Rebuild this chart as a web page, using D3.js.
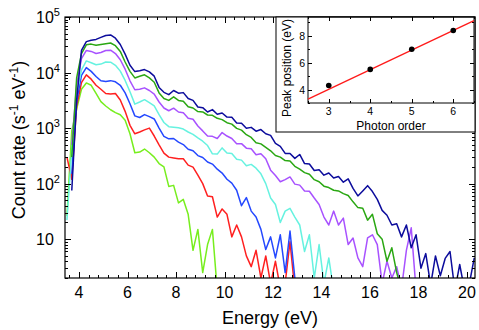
<!DOCTYPE html>
<html>
<head>
<meta charset="utf-8">
<script src="https://d3js.org/d3.v7.min.js"></script>
<style>
  body { margin: 0; background: #fff; }
  text { font-family: "Liberation Sans", Arial, sans-serif; fill: #000; }
  .axis path, .axis line { stroke: #000; stroke-width: 1; shape-rendering: crispEdges; }
</style>
</head>
<body>
<svg width="479" height="330"></svg>
<script>
// energy grid (eV) shared by all spectra
var energy = [3.5,3.7,3.9,4.1,4.3,4.5,4.7,4.9,5.1,5.3,
  5.5,5.7,5.9,6.1,6.3,6.5,6.7,6.9,7.1,7.3,
  7.5,7.7,7.9,8.1,8.3,8.5,8.7,8.9,9.1,9.3,
  9.5,9.7,9.9,10.1,10.3,10.5,10.7,10.9,11.1,11.3,
  11.5,11.7,11.9,12.1,12.3,12.5,12.7,12.9,13.1,13.3,
  13.5,13.7,13.9,14.1,14.3,14.5,14.7,14.9,15.1,15.3,
  15.5,15.7,15.9,16.1,16.3,16.5,16.7,16.9,17.1,17.3,
  17.5,17.7,17.9,18.1,18.3,18.5,18.7,18.9,19.1,19.3,
  19.5,19.7,19.9,20.1,20.3];

// count rates (s^-1 eV^-1)
var navy = [null,75,3200,25000,36000,38000,39500,43000,46500,47500,
  41500,32000,21500,13500,10400,10800,11300,10300,8600,5400,
  4400,4000,4750,4250,4350,3400,3150,2400,2330,1950,
  2150,1780,1870,1580,1560,1240,1220,990,1030,880,
  940,790,740,530,470,350,350,285,335,230,
  225,172,178,142,155,126,134,106,122,82,
  60,74,92,72,52,33,27,18,19,11,
  18,7,12,3,5.5,1.5,5,2.2,4.5,6,
  1.2,3.5,1.2,1.6,4.6];
var green = [null,300,8000,22000,31500,32500,31000,32000,33000,34000,
  30500,24000,15500,10500,8000,8600,9100,8000,6700,4300,
  3400,3150,3650,3150,3050,2420,2300,1980,1950,1720,
  1700,1500,1420,1250,1180,990,920,760,680,545,
  520,450,390,320,300,260,255,205,182,158,
  148,118,108,90,85,76,74,66,61,47,
  37,36,22,28,12.5,10,4,7,2.5,1.2];
var purple = [null,500,6000,17800,25000,24000,22000,23000,25000,25300,
  22000,17000,11500,7100,4900,5000,5300,4750,4100,2950,
  2300,2050,2280,1950,1890,1510,1440,1090,890,720,
  710,650,830,720,650,520,525,435,425,330,
  345,280,175,140,108,118,132,98,94,74,
  73,55,42,25,18,32,18,24,8,10.5,
  4.6,3.2,10.5,12,8,1.6,4,2,3.2,1.3,
  6.3,16,1.2];
var cyan = [22,400,4000,11200,16200,15000,13800,14200,15500,15400,
  13500,10600,7200,4500,2700,2950,3250,2880,2500,1740,
  1260,1060,1040,1010,960,850,770,665,580,485,
  345,340,440,355,350,275,265,210,222,190,
  150,100,55,42,20,32,36,25,18,6,
  12,2,8,1.6,4.6,1.2];
var blue = [null,150,3000,8900,12300,10500,8500,7100,6900,7150,
  6800,5900,4300,2750,1660,1550,1750,1610,1460,1000,
  710,640,650,560,505,415,390,320,295,245,
  225,182,155,120,102,76,40,56,32,25,
  15,6.5,11,4.6,12,2.5,14,2];
var red = [300,120,2500,6600,9100,7600,5900,5000,4200,4100,
  4200,3200,2000,1120,790,850,930,1000,720,500,
  355,300,290,280,280,215,198,142,100,60,
  58,25,35,28,11,18,11,5,3.2,6.3,
  2,5,1.6,4,1.3,1.6,9,1.2];
var lime = [26,900,2200,5000,6500,5900,4200,3000,2500,2140,
  1900,1740,1380,790,360,370,420,360,300,230,
  200,89,93,45,52,28,6.3,15,2.5,8,
  15,1.2];

// drawing order: lowest spectrum first
var spectra = [
  {values: lime,   color: "#77ee1e"},
  {values: red,    color: "#ff2020"},
  {values: blue,   color: "#2448ff"},
  {values: cyan,   color: "#66f2e0"},
  {values: purple, color: "#a852ff"},
  {values: green,  color: "#2aa712"},
  {values: navy,   color: "#0c0c9c"}
];

var xTicks = [4,6,8,10,12,14,16,18,20];
var yTicks = [10,100,1000,10000,100000];

// inset: peak position vs photon order
var order = [3,4,5,6];
var peakPos = [4.3,5.5,7.0,8.4];
var fitSlope = 1.46, fitIntercept = -0.36;
var insetXTicks = [3,4,5,6];
var insetYTicks = [4,6,8];

var svg = d3.select("svg");
var plot = {left:65, right:475, top:17, bottom:278};

var x = d3.scaleLinear().domain([3.42,20.33]).range([plot.left,plot.right]);
var y = d3.scaleLog().domain([2,1e5]).range([plot.bottom,plot.top]);

svg.append("clipPath").attr("id","clip")
  .append("rect")
  .attr("x",plot.left).attr("y",plot.top)
  .attr("width",plot.right-plot.left).attr("height",plot.bottom-plot.top);

var line = d3.line()
  .defined(function(d){ return d[1] != null; })
  .x(function(d){ return x(d[0]); })
  .y(function(d){ return y(d[1]); });

var curves = svg.append("g").attr("clip-path","url(#clip)");
spectra.forEach(function(s){
  var pts = energy.map(function(e,i){ return [e, s.values[i] === undefined ? null : s.values[i]]; });
  curves.append("path")
    .datum(pts)
    .attr("d",line)
    .attr("fill","none")
    .attr("stroke",s.color)
    .attr("stroke-width",1.5)
    .attr("stroke-linejoin","round");
});

// minor ticks
var xMinor = d3.range(3.6,20.4,0.4).map(function(v){ return +v.toFixed(1); })
  .filter(function(v){ return xTicks.indexOf(v) < 0; });
var yMinor = [];
[1,10,100,1000,10000].forEach(function(dec){
  for (var k=2;k<=9;k++){ var v=k*dec; if (v>=2 && v<1e5) yMinor.push(v); }
});

function axisGroup(axis, tx, ty){
  var g = svg.append("g").attr("class","axis")
    .attr("transform","translate("+tx+","+ty+")").call(axis);
  g.select(".domain").remove();
  return g;
}

axisGroup(d3.axisBottom(x).tickValues(xTicks).tickSize(-6).tickFormat(""),0,plot.bottom);
axisGroup(d3.axisBottom(x).tickValues(xMinor).tickSize(-3).tickFormat(""),0,plot.bottom);
axisGroup(d3.axisTop(x).tickValues(xTicks).tickSize(-6).tickFormat(""),0,plot.top);
axisGroup(d3.axisTop(x).tickValues(xMinor).tickSize(-3).tickFormat(""),0,plot.top);
axisGroup(d3.axisLeft(y).tickValues(yTicks).tickSize(-6).tickFormat(""),plot.left,0);
axisGroup(d3.axisLeft(y).tickValues(yMinor).tickSize(-3).tickFormat(""),plot.left,0);
axisGroup(d3.axisRight(y).tickValues(yTicks).tickSize(-6).tickFormat(""),plot.right,0);
axisGroup(d3.axisRight(y).tickValues(yMinor).tickSize(-3).tickFormat(""),plot.right,0);

svg.append("rect")
  .attr("x",plot.left).attr("y",plot.top)
  .attr("width",plot.right-plot.left).attr("height",plot.bottom-plot.top)
  .attr("fill","none").attr("stroke","#000").attr("stroke-width",1.2);

// x tick labels
svg.append("g").selectAll("text").data(xTicks).enter().append("text")
  .attr("x",function(d){ return x(d); })
  .attr("y",plot.bottom+20)
  .attr("text-anchor","middle")
  .style("font-size","16px")
  .text(function(d){ return d; });

// y tick labels (powers of ten)
var yl = svg.append("g").selectAll("text").data(yTicks).enter().append("text")
  .attr("x",36)
  .attr("y",function(d){ return y(d)+6; })
  .style("font-size","16px");
yl.append("tspan").text("10");
yl.filter(function(d){ return d > 10; }).append("tspan")
  .attr("dy",-7).style("font-size","11px")
  .text(function(d){ return Math.round(Math.log10(d)); });

// axis titles
svg.append("text")
  .attr("x",(plot.left+plot.right)/2).attr("y",324)
  .attr("text-anchor","middle").style("font-size","18px")
  .text("Energy (eV)");

var yt = svg.append("text")
  .attr("transform","translate(25,140) rotate(-90)")
  .attr("text-anchor","middle").style("font-size","18px");
yt.append("tspan").text("Count rate (s");
yt.append("tspan").attr("dy",-7).style("font-size","12px").text("-1");
yt.append("tspan").attr("dy",7).text(" eV");
yt.append("tspan").attr("dy",-7).style("font-size","12px").text("-1");
yt.append("tspan").attr("dy",7).text(")");

// ---- inset ----
var ins = {left:308, right:474, top:17, bottom:103};
svg.append("rect")
  .attr("x",276).attr("y",17).attr("width",199).attr("height",115)
  .attr("fill","#fff").attr("stroke","#000").attr("stroke-width",1);

var ix = d3.scaleLinear().domain([2.5,6.5]).range([ins.left,ins.right]);
var iy = d3.scaleLinear().domain([3,9.4]).range([ins.bottom,ins.top]);

var ixMinor = [2.5,3.5,4.5,5.5,6.5];
var iyMinor = [3,5,7,9];
axisGroup(d3.axisBottom(ix).tickValues(insetXTicks).tickSize(-4).tickFormat(""),0,ins.bottom);
axisGroup(d3.axisBottom(ix).tickValues(ixMinor).tickSize(-2).tickFormat(""),0,ins.bottom);
axisGroup(d3.axisTop(ix).tickValues(insetXTicks).tickSize(-4).tickFormat(""),0,ins.top);
axisGroup(d3.axisTop(ix).tickValues(ixMinor).tickSize(-2).tickFormat(""),0,ins.top);
axisGroup(d3.axisLeft(iy).tickValues(insetYTicks).tickSize(-4).tickFormat(""),ins.left,0);
axisGroup(d3.axisLeft(iy).tickValues(iyMinor).tickSize(-2).tickFormat(""),ins.left,0);
axisGroup(d3.axisRight(iy).tickValues(insetYTicks).tickSize(-4).tickFormat(""),ins.right,0);
axisGroup(d3.axisRight(iy).tickValues(iyMinor).tickSize(-2).tickFormat(""),ins.right,0);

svg.append("rect")
  .attr("x",ins.left).attr("y",ins.top)
  .attr("width",ins.right-ins.left).attr("height",ins.bottom-ins.top)
  .attr("fill","none").attr("stroke","#000").attr("stroke-width",1);

svg.append("line")
  .attr("x1",ix(2.5)).attr("y1",iy(fitSlope*2.5+fitIntercept))
  .attr("x2",ix(6.5)).attr("y2",iy(fitSlope*6.5+fitIntercept))
  .attr("stroke","#ff1a1a").attr("stroke-width",1.3);

svg.append("g").selectAll("circle").data(order).enter().append("circle")
  .attr("cx",function(d){ return ix(d); })
  .attr("cy",function(d,i){ return iy(peakPos[i]); })
  .attr("r",2.8).attr("fill","#000");

svg.append("g").selectAll("text").data(insetXTicks).enter().append("text")
  .attr("x",function(d){ return ix(d); }).attr("y",ins.bottom+12)
  .attr("text-anchor","middle").style("font-size","10.5px")
  .text(function(d){ return d; });
svg.append("g").selectAll("text").data(insetYTicks).enter().append("text")
  .attr("x",ins.left-3).attr("y",function(d){ return iy(d)+4; })
  .attr("text-anchor","end").style("font-size","10.5px")
  .text(function(d){ return d; });

svg.append("text")
  .attr("x",(ins.left+ins.right)/2).attr("y",129.5)
  .attr("text-anchor","middle").style("font-size","12px")
  .text("Photon order");
svg.append("text")
  .attr("transform","translate(291,68) rotate(-90)")
  .attr("text-anchor","middle").style("font-size","12px")
  .text("Peak position (eV)");
</script>
</body>
</html>
